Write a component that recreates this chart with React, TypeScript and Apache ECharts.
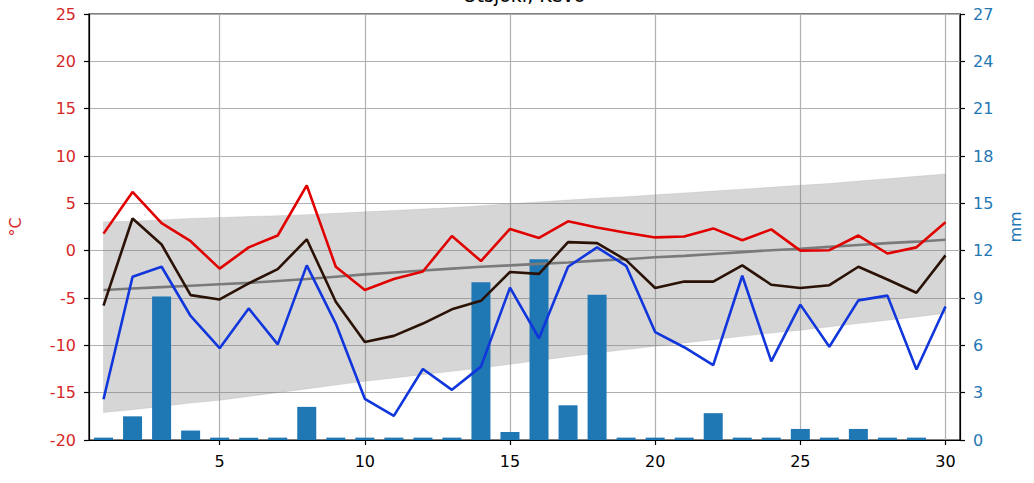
import React, { useEffect, useRef } from "react";
import * as echarts from "echarts";

const days = [1, 2, 3, 4, 5, 6, 7, 8, 9, 10, 11, 12, 13, 14, 15, 16, 17, 18, 19, 20, 21, 22, 23, 24, 25, 26, 27, 28, 29, 30];
const xTicks = [5, 10, 15, 20, 25, 30];

const tMax = [1.8, 6.2, 2.9, 1.0, -1.9, 0.35, 1.6, 6.9, -1.7, -4.15, -3.0, -2.2, 1.55, -1.1, 2.3, 1.35, 3.1, 2.45, 1.9, 1.4, 1.5, 2.35, 1.1, 2.25, 0.0, 0.05, 1.6, -0.3, 0.35, 3.0];
const tMean = [-5.8, 3.4, 0.65, -4.7, -5.15, -3.45, -1.95, 1.2, -5.4, -9.65, -9.0, -7.7, -6.2, -5.3, -2.25, -2.45, 0.9, 0.8, -1.0, -3.95, -3.25, -3.27, -1.55, -3.6, -3.95, -3.65, -1.7, -3.05, -4.45, -0.5];
const tMin = [-15.7, -2.75, -1.7, -6.9, -10.3, -6.1, -9.9, -1.55, -7.7, -15.65, -17.45, -12.5, -14.7, -12.25, -3.9, -9.25, -1.7, 0.35, -1.6, -8.6, -10.2, -12.1, -2.65, -11.7, -5.7, -10.15, -5.25, -4.75, -12.55, -5.9];
const precip = [0.15, 1.5, 9.1, 0.6, 0.15, 0.15, 0.15, 2.1, 0.15, 0.15, 0.15, 0.15, 0.15, 10.0, 0.5, 11.45, 2.2, 9.2, 0.15, 0.15, 0.15, 1.7, 0.15, 0.15, 0.7, 0.15, 0.7, 0.15, 0.15, null];

const climMean = [-4.15, -4.0, -3.85, -3.7, -3.55, -3.4, -3.2, -3.0, -2.75, -2.5, -2.3, -2.1, -1.9, -1.7, -1.55, -1.4, -1.25, -1.05, -0.9, -0.7, -0.55, -0.35, -0.15, 0.05, 0.2, 0.4, 0.6, 0.8, 0.95, 1.15];
const climUpper = [3.06, 3.1, 3.25, 3.4, 3.5, 3.6, 3.7, 3.8, 3.95, 4.1, 4.25, 4.4, 4.55, 4.75, 4.95, 5.15, 5.35, 5.55, 5.7, 5.9, 6.1, 6.3, 6.5, 6.7, 6.9, 7.1, 7.35, 7.6, 7.85, 8.1];
const climLower = [-17.1, -16.8, -16.45, -16.1, -15.8, -15.4, -15.0, -14.6, -14.2, -13.8, -13.45, -13.1, -12.75, -12.4, -12.0, -11.6, -11.2, -10.8, -10.45, -10.1, -9.75, -9.4, -9.05, -8.7, -8.4, -8.05, -7.7, -7.35, -7.0, -6.6];

const FONT = "DejaVu Sans";

export default function App() {
  const ref = useRef<HTMLDivElement>(null);
  useEffect(() => {
    document.body.style.margin = "0";
    if (!ref.current) return;
    const chart = echarts.init(ref.current, null, { renderer: "svg" });
    const pair = (arr: (number | null)[]) => days.map((d, i) => [d, arr[i]]);
    const lineBase = { type: "line", symbol: "none", silent: true, yAxisIndex: 0, xAxisIndex: 0 };
    chart.setOption({
      animation: false,
      textStyle: { fontFamily: FONT },
      grid: { left: 89, right: 74, top: 14, bottom: 43, show: true, borderColor: "#000", borderWidth: 1.2, backgroundColor: "#fff" },
      graphic: [
        { type: "text", x: 524, y: 4, style: { text: "Utsjoki, Kevo", align: "center", verticalAlign: "bottom", fontSize: 19, fontFamily: FONT, fill: "#000" } },
        { type: "text", x: 15, y: 227, rotation: Math.PI / 2, style: { text: "°C", align: "center", verticalAlign: "middle", fontSize: 16, fontFamily: FONT, fill: "#d62728" } },
        { type: "text", x: 1015, y: 227, rotation: Math.PI / 2, style: { text: "mm", align: "center", verticalAlign: "middle", fontSize: 16, fontFamily: FONT, fill: "#1f77b4" } },
      ],
      xAxis: {
        type: "value",
        min: 0.5,
        max: 30.5,
        axisLine: { show: true, onZero: false, lineStyle: { color: "#000", width: 1.2 } },
        axisTick: { show: true, customValues: xTicks, length: 5, lineStyle: { color: "#000", width: 1.2 } },
        axisLabel: { customValues: xTicks, color: "#000", fontSize: 16, fontFamily: FONT, margin: 13 },
        splitLine: { show: true, lineStyle: { color: "#b0b0b0", width: 1.2 } },
      },
      yAxis: [
        {
          type: "value",
          min: -20,
          max: 25,
          interval: 5,
          axisLine: { show: true, lineStyle: { color: "#000", width: 1.2 } },
          axisTick: { show: true, length: 5, lineStyle: { color: "#000", width: 1.2 } },
          axisLabel: { color: "#d62728", fontSize: 16, fontFamily: FONT, margin: 13 },
          splitLine: { show: true, lineStyle: { color: "#b0b0b0", width: 1.2 } },
        },
        {
          type: "value",
          position: "right",
          min: 0,
          max: 27,
          interval: 3,
          axisLine: { show: true, lineStyle: { color: "#000", width: 1.2 } },
          axisTick: { show: true, length: 5, lineStyle: { color: "#000", width: 1.2 } },
          axisLabel: { color: "#1f77b4", fontSize: 16, fontFamily: FONT, margin: 13 },
          splitLine: { show: false },
        },
      ],
      series: [
        {
          type: "custom",
          name: "band",
          silent: true,
          xAxisIndex: 0,
          yAxisIndex: 0,
          clip: true,
          data: days.map((d, i) => [d, climUpper[i], climLower[i]]),
          renderItem: (params: any, api: any) => {
            if (params.dataIndex !== 0) return { type: "group", children: [] };
            const up = days.map((d, i) => api.coord([d, climUpper[i]]));
            const lo = days.map((d, i) => api.coord([d, climLower[i]])).reverse();
            return {
              type: "polygon",
              shape: { points: up.concat(lo) },
              style: { fill: "rgba(128,128,128,0.32)", stroke: "rgba(128,128,128,0.2)", lineWidth: 0.8 },
            };
          },
        },
        {
          ...lineBase,
          name: "climMean",
          data: pair(climMean),
          lineStyle: { color: "#7a7a7a", width: 2.6 },
        },
        {
          type: "bar",
          name: "precip",
          silent: true,
          yAxisIndex: 1,
          barWidth: 19,
          data: pair(precip),
          itemStyle: { color: "#1f77b4" },
        },
        {
          ...lineBase,
          name: "tMax",
          data: pair(tMax),
          lineStyle: { color: "#e00000", width: 2.6 },
        },
        {
          ...lineBase,
          name: "tMean",
          data: pair(tMean),
          lineStyle: { color: "#2a1206", width: 2.6 },
        },
        {
          ...lineBase,
          name: "tMin",
          data: pair(tMin),
          lineStyle: { color: "#1036dc", width: 2.6 },
        },
      ],
    });
    return () => chart.dispose();
  }, []);
  return <div ref={ref} style={{ width: 1034, height: 483 }} />;
}
